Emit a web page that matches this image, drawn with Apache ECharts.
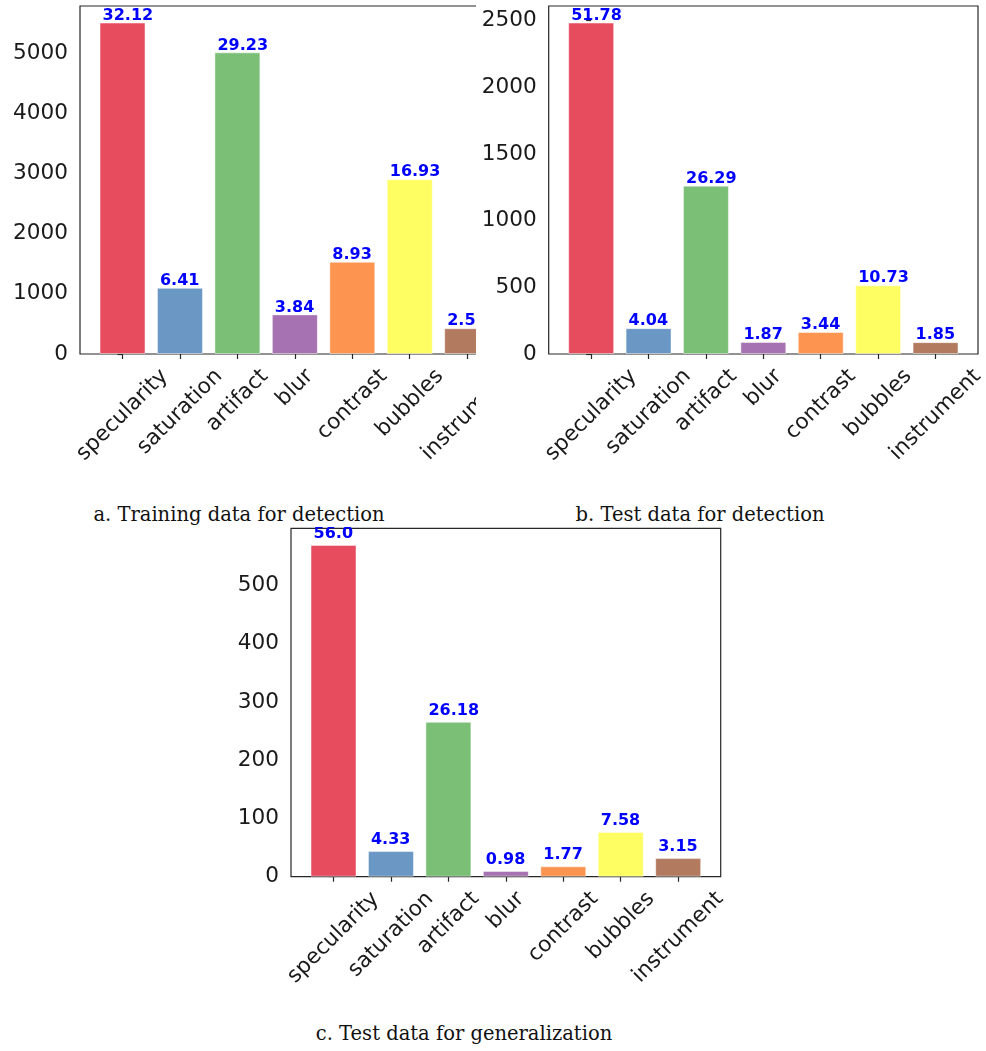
<!DOCTYPE html>
<html>
<head>
<meta charset="utf-8">
<script src="https://cdn.jsdelivr.net/npm/echarts@6/dist/echarts.min.js"></script>
<style>
  html, body { margin: 0; padding: 0; background: #fff; }
  #page { position: relative; width: 986px; height: 1051px; overflow: hidden; }
  .box { position: absolute; }
  .cap {
    position: absolute;
    font-family: 'DejaVu Serif', serif;
    font-size: 19.5px;
    line-height: 1;
    white-space: nowrap;
    color: #111;
    transform: translateX(-50%);
  }
</style>
</head>
<body>
<div id="page">
  <div id="chartA" class="box" style="left:0;top:0;width:476px;height:500px"></div>
  <div id="chartB" class="box" style="left:476px;top:0;width:510px;height:500px"></div>
  <div id="chartC" class="box" style="left:0;top:527px;width:986px;height:493px"></div>
  <div class="cap" style="left:239px;top:505px">a. Training data for detection</div>
  <div class="cap" style="left:700px;top:505px">b. Test data for detection</div>
  <div class="cap" style="left:464px;top:1024px">c. Test data for generalization</div>
</div>
<script>
// 类别
var categories = ['specularity', 'saturation', 'artifact', 'blur', 'contrast', 'bubbles', 'instrument']
var barColors = ['#e74b5e', '#6a97c4', '#7abf75', '#a672b1', '#fd9551', '#fefe62', '#b27b5f']

// a. 训练集
var trainCounts = [5505, 1099, 5010, 658, 1531, 2902, 428]
var trainPct = ['32.12', '6.41', '29.23', '3.84', '8.93', '16.93', '2.5']
var trainTicks = [0, 1000, 2000, 3000, 4000, 5000]

// b. 测试集
var testCounts = [2485, 194, 1262, 90, 165, 515, 89]
var testPct = ['51.78', '4.04', '26.29', '1.87', '3.44', '10.73', '1.85']
var testTicks = [0, 500, 1000, 1500, 2000, 2500]

// c. 泛化测试集
var genCounts = [570, 44, 266, 10, 18, 77, 32]
var genPct = ['56.0', '4.33', '26.18', '0.98', '1.77', '7.58', '3.15']
var genTicks = [0, 100, 200, 300, 400, 500]

var FONT = 'DejaVu Sans'
var TICK_SIZE = 21.6
// matplotlib 默认的柱状图左右留白
var X_MIN = -0.4 - 0.05 * 6.8
var X_MAX = 6.4 + 0.05 * 6.8

var measureCtx = document.createElement('canvas').getContext('2d')
function textWidth (txt, size) {
  measureCtx.font = size + 'px "' + FONT + '"'
  return measureCtx.measureText(txt).width
}

function buildOption (counts, pct, ticks, grid, labelDy) {
  var unit = grid.width / (X_MAX - X_MIN)
  var barW = unit * 0.8
  var xIdx = categories.map(function (c, i) { return i })
  var lineStyle = { color: '#262626', width: 1.2 }
  return {
    animation: false,
    grid: Object.assign({
      show: true,
      outerBoundsMode: 'none',
      containLabel: false,
      borderColor: '#262626',
      borderWidth: 1.2,
      backgroundColor: 'transparent'
    }, grid),
    xAxis: {
      type: 'value',
      min: X_MIN,
      max: X_MAX,
      axisLine: { show: false },
      splitLine: { show: false },
      axisTick: { show: true, length: 5, customValues: xIdx, lineStyle: lineStyle },
      axisLabel: { show: false }
    },
    yAxis: {
      type: 'value',
      min: 0,
      max: Math.max.apply(null, counts) * 1.05,
      axisLine: { show: false },
      splitLine: { show: false },
      axisTick: { show: true, length: 5, customValues: ticks, lineStyle: lineStyle },
      axisLabel: {
        customValues: ticks,
        margin: 12,
        color: '#1a1a1a',
        fontSize: TICK_SIZE,
        fontFamily: FONT,
        formatter: function (v) { return String(v) }
      }
    },
    series: [
      {
        type: 'bar',
        barWidth: barW,
        data: counts.map(function (v, i) { return [i, v] }),
        itemStyle: {
          color: function (p) { return barColors[p.dataIndex] },
          borderColor: 'rgba(255,255,255,0.45)',
          borderWidth: 1
        },
        label: {
          show: true,
          position: 'top',
          distance: 0,
          align: 'left',
          offset: [-barW / 2 + 3, labelDy],
          formatter: function (p) { return pct[p.dataIndex] },
          color: '#0000ff',
          fontWeight: 'bold',
          fontSize: 16,
          fontFamily: FONT
        }
      },
      {
        // 45度倾斜的类别标签, 包围盒居中于刻度
        type: 'custom',
        silent: true,
        clip: false,
        data: xIdx.map(function (i) { return [i, 0] }),
        renderItem: function (params, api) {
          var i = api.value(0)
          var p = api.coord([i, 0])
          var txt = categories[i]
          var L = textWidth(txt, TICK_SIZE)
          var h = TICK_SIZE * 1.17
          var half = (L + h) / (2 * Math.SQRT2)
          return {
            type: 'text',
            x: p[0],
            y: p[1] + 10 + half,
            rotation: Math.PI / 4,
            style: {
              text: txt,
              align: 'center',
              verticalAlign: 'middle',
              fill: '#1a1a1a',
              fontSize: TICK_SIZE,
              fontFamily: FONT
            }
          }
        }
      }
    ]
  }
}

var chartA = echarts.init(document.getElementById('chartA'))
chartA.setOption(buildOption(trainCounts, trainPct, trainTicks,
  { left: 80, top: 6, width: 429.7, height: 348 }, 1))

var chartB = echarts.init(document.getElementById('chartB'))
chartB.setOption(buildOption(testCounts, testPct, testTicks,
  { left: 72.7, top: 6, width: 429.3, height: 348 }, 1))

var chartC = echarts.init(document.getElementById('chartC'))
chartC.setOption(buildOption(genCounts, genPct, genTicks,
  { left: 291, top: 1.3, width: 429.7, height: 348.4 }, -3.5))
</script>
</body>
</html>
